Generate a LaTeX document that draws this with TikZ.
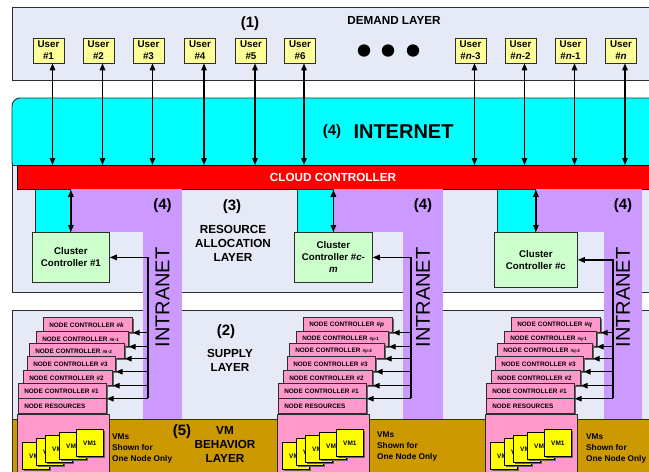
\documentclass[tikz,border=0pt]{standalone}
\usepackage{fontspec}
\setmainfont{Liberation Sans}
\usepackage{tikz}
\usetikzlibrary{arrows.meta,positioning,shadows}
\definecolor{layerBg}{RGB}{229,234,246}
\definecolor{netCyan}{RGB}{0,255,255}
\definecolor{cloudRed}{RGB}{255,0,0}
\definecolor{intraPurple}{RGB}{204,153,255}
\definecolor{clusterGreen}{RGB}{204,255,204}
\definecolor{userYellow}{RGB}{255,255,153}
\definecolor{nodePink}{RGB}{255,153,204}
\definecolor{vmYellow}{RGB}{255,255,0}
\definecolor{vmGold}{RGB}{204,153,0}
\definecolor{edgeGray}{RGB}{45,45,45}
\newcommand{\boldsize}[2]{\fontsize{#1}{#2}\selectfont\bfseries}
\newcommand{\tinyidx}[2]{{\fontsize{4.6}{5}\selectfont\#\textit{#1}-#2}}

\begin{document}
\begin{tikzpicture}[x=1pt, y=-1pt,
    every node/.style={inner sep=0pt},
    layerbox/.style={draw=edgeGray, fill=layerBg, line width=0.9pt},
    userbox/.style={draw=edgeGray, fill=userYellow, line width=0.7pt, minimum width=31pt, minimum height=25pt, align=center, font=\boldsize{9.8}{12}},
    clusterbox/.style={draw=edgeGray, fill=clusterGreen, line width=0.8pt, anchor=north west, align=center, font=\boldsize{9.7}{12}},
    boxshadow/.style={drop shadow={shadow xshift=1.8pt, shadow yshift=-1.8pt, fill=black!60, opacity=1}},
    ncbox/.style={draw=edgeGray, fill=nodePink, line width=0.7pt, anchor=north west, minimum height=15pt, inner xsep=6pt, align=left, font=\boldsize{6.4}{8}, boxshadow},
    vmhost/.style={draw=edgeGray, fill=nodePink, line width=0.7pt, anchor=north west},
    vmbox/.style={draw=black, fill=vmYellow, line width=0.7pt, anchor=north west, minimum width=27pt, minimum height=27pt, font=\boldsize{6.5}{8}, boxshadow},
    vmnote/.style={anchor=north west, align=left, font=\boldsize{8.3}{11}},
    layertext/.style={align=center, font=\boldsize{11.7}{14}},
    tagtext/.style={font=\boldsize{15}{16}},
    link/.style={line width=1.3pt},
    toarrow/.style={link, -{Triangle[length=7pt,width=5.5pt]}},
    biarrow/.style={link, {Triangle[length=7pt,width=5.5pt]}-{Triangle[length=7pt,width=5.5pt]}}
]
\useasboundingbox (0,0) rectangle (649,472);
\clip (0,0) rectangle (649,472);

% layers
\draw[layerbox] (12,7) rectangle (660,80);
\draw[draw=edgeGray, fill=netCyan, line width=0.9pt, rounded corners=8pt] (12,98) rectangle (670,170);
\draw[layerbox] (12,165) rectangle (660,292);
\draw[layerbox] (12,310) rectangle (660,419);
\draw[draw=edgeGray, fill=vmGold, line width=0.9pt] (12,419) rectangle (660,480);

\node[draw=black, fill=cloudRed, line width=0.8pt, anchor=north west, minimum width=650pt, minimum height=24pt] (cloud) at (17,165) {};
\node[font=\boldsize{11.7}{14}, text=white] (cloudtxt) at (333,177) {CLOUD CONTROLLER};

% demand layer
\foreach \i/\x/\lab in {1/48.5/\#1, 2/98.5/\#2, 3/148.5/\#3, 4/200/\#4, 5/251/\#5, 6/300/\#6,
    7/470.5/\#\textit{n}-3, 8/520.5/\#\textit{n}-2, 9/570.5/\#\textit{n}-1, 10/621/\#\textit{n}} {
  \node[userbox] (user\i) at (\x,50.5) {User\\\lab};
  \draw[biarrow] ([xshift=4pt]user\i.south) -- ([xshift=4pt]user\i.south |- cloud.north);
}
\foreach \x in {364,388,413}
  \fill (\x,50.5) circle (6.2pt);
\node[tagtext] (tag1) at (250,24) {(1)};
\node[layertext] (demand) at (394,20) {DEMAND LAYER};

% internet
\node[font=\boldsize{20}{22}] (inet) at (403.5,132) {INTERNET};
\node[tagtext, left=12pt of inet] (inettag) {(4)};

% clusters and intranets
\foreach \c/\bx/\bw/\bh/\barl/\barr/\bus/\txt in {
    1/32/77/50/143/182/148/{Cluster\\Controller \#1},
    2/294/78/50/403/443/411/{Cluster\\Controller \#\textit{c}-\\\textit{m}},
    3/494/83/55/604/642/613/{Cluster\\Controller \#c}} {
  \fill[intraPurple] ({\bx+\bw/2},189) rectangle (\barr,232);
  \fill[intraPurple] (\barl,189) rectangle (\barr,419);
  \draw[draw=edgeGray, fill=netCyan, line width=0.8pt] ({\bx+3.5},189) rectangle ({\bx+\bw/2},232);
  \node[clusterbox, minimum width=\bw pt, minimum height=\bh pt] (cl\c) at (\bx,232) {\txt};
  \draw[biarrow] (cl\c.north) -- (cl\c.north |- cloud.south);
  \coordinate (bus\c) at (\bus,398);
  \draw[toarrow] (bus\c) |- (cl\c.east);
  \node[tagtext] (tag4-\c) at ({(\barl+\barr)/2},206) {(4)};
  \node[font=\fontsize{20}{22}\selectfont, rotate=90] (intra\c) at ({(\barl+\barr)/2},297.5) {INTRANET};
}

% resource allocation layer
\node[tagtext] (tag3) at (232,207) {(3)};
\node[layertext] (alloc) at (233,243) {RESOURCE\\ALLOCATION\\LAYER};

% supply layer
\node[tagtext] (tag2) at (226,332) {(2)};
\node[layertext] (supply) at (230,360) {SUPPLY\\LAYER};

% vm behavior layer
\node[tagtext] (tag5) at (182,432) {(5)};
\node[layertext] (vmlayer) at (225,444) {VM\\BEHAVIOR\\LAYER};

% node controllers and vms
\foreach \s/\xo/\vn/\nx/\ny in {1/18/k/112/434, 2/278/p/377/432, 3/486/q/586/434} {
  \foreach \j/\dx/\top/\tw/\lab in {
      6/25/317/77/{NODE CONTROLLER \#\textit{\vn}},
      5/18/331/80/{NODE CONTROLLER \tinyidx{\vn}{1}},
      4/11/343/83/{NODE CONTROLLER \tinyidx{\vn}{2}},
      3/9/356/76/{NODE CONTROLLER \#3},
      2/5/370/77/{NODE CONTROLLER \#2},
      1/0/383/76/{NODE CONTROLLER \#1}}
    \node[ncbox, text width=\tw pt] (nc\s-\j) at (\xo+\dx,\top) {\lab};
  \node[ncbox, text width=76pt] (res\s) at (\xo,398) {NODE RESOURCES};
  \foreach \j in {1,...,6}
    \draw[toarrow] (bus\s |- nc\s-\j.south east) -- (nc\s-\j.south east);
  \node[vmhost, minimum width=92pt, minimum height=66pt] (host\s) at (\xo-1,414) {};
  \foreach \v/\dx/\top in {5/4/442, 4/18/438, 3/27/435, 2/41/432, 1/58/429}
    \node[vmbox] (vm\s-\v) at (\xo+\dx,\top) {VM\v};
  \node[vmnote] (note\s) at (\nx,\ny) {VMs\\Shown for\\One Node Only};
}
\end{tikzpicture}
\end{document}
